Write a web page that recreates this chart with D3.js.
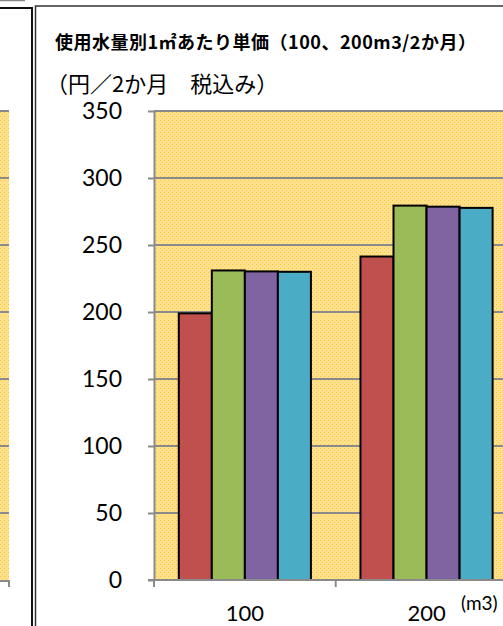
<!DOCTYPE html>
<html>
<head>
<meta charset="utf-8">
<script src="https://d3js.org/d3.v7.min.js"></script>
<style>
  body { margin: 0; background: #fff; }
  svg { display: block; }
  .tick text { font-family: Lato, "Liberation Sans", sans-serif; }
</style>
</head>
<body>
<div id="chart"></div>
<script>
// data
var categories = ["100", "200"];
var seriesNames = ["s1", "s2", "s3", "s4"];
var s1 = [199, 241.4];
var s2 = [231, 279.4];
var s3 = [230.3, 278.6];
var s4 = [230, 277.7];
var yTicks = [0, 50, 100, 150, 200, 250, 300, 350];
var colours = ["#C0504D", "#9BBB59", "#8064A2", "#4BACC6"];

var width = 503, height = 626;
var plot = { left: 154, right: 517.4, top: 111, bottom: 580 };

var svg = d3.select("#chart").append("svg")
  .attr("width", width)
  .attr("height", height);

var defs = svg.append("defs");
var pat = defs.append("pattern")
  .attr("id", "dots")
  .attr("width", 4).attr("height", 4)
  .attr("patternUnits", "userSpaceOnUse");
pat.append("rect").attr("width", 4).attr("height", 4).attr("fill", "#FFE08C");
pat.append("rect").attr("x", 0).attr("y", 0).attr("width", 1).attr("height", 1).attr("fill", "#FFC72C");
pat.append("rect").attr("x", 2).attr("y", 2).attr("width", 1).attr("height", 1).attr("fill", "#FFD24F");

var y = d3.scaleLinear().domain([0, 350]).range([plot.bottom, plot.top]);

// left neighbour chart (only a sliver is visible)
var leftG = svg.append("g");
leftG.append("rect")
  .attr("x", 0).attr("y", plot.top)
  .attr("width", 9).attr("height", plot.bottom - plot.top)
  .attr("fill", "url(#dots)");
leftG.selectAll("line.grid")
  .data(yTicks.slice(1))
  .enter().append("line")
  .attr("x1", 0).attr("x2", 9)
  .attr("y1", function (d) { return y(d); })
  .attr("y2", function (d) { return y(d); })
  .attr("stroke", "#8a8a8a").attr("stroke-width", 2);
leftG.append("line")
  .attr("x1", 0).attr("x2", 10)
  .attr("y1", plot.bottom + 1).attr("y2", plot.bottom + 1)
  .attr("stroke", "#8a8a8a").attr("stroke-width", 2);
leftG.append("line")
  .attr("x1", 9).attr("x2", 9)
  .attr("y1", plot.bottom).attr("y2", plot.bottom + 7)
  .attr("stroke", "#8a8a8a").attr("stroke-width", 2);

// frames
svg.append("line").attr("x1", 0).attr("x2", 25).attr("y1", 0.5).attr("y2", 0.5)
  .attr("stroke", "#888").attr("stroke-width", 1.5);
svg.append("path")
  .attr("d", "M0,8 H32 V626")
  .attr("fill", "none").attr("stroke", "#111").attr("stroke-width", 2);
svg.append("path")
  .attr("d", "M35.5,626 V6 H503")
  .attr("fill", "none").attr("stroke", "#333").attr("stroke-width", 1.5);

// titles
svg.append("text")
  .attr("x", 55).attr("y", 44)
  .attr("dominant-baseline", "middle")
  .style("font-family", "'Noto Sans CJK JP', sans-serif")
  .style("font-weight", "bold")
  .style("font-size", "18px")
  .style("letter-spacing", "0.5px")
  .text("使用水量別1㎡あたり単価（100、200m3/2か月）");

svg.append("text")
  .attr("x", 46).attr("y", 86)
  .attr("dominant-baseline", "middle")
  .style("font-family", "'Noto Sans CJK JP', sans-serif")
  .style("font-size", "22px")
  .text("（円／2か月　税込み）");

// plot area
var g = svg.append("g");
g.append("rect")
  .attr("x", plot.left).attr("y", plot.top)
  .attr("width", plot.right - plot.left).attr("height", plot.bottom - plot.top)
  .attr("fill", "url(#dots)");

g.selectAll("line.grid")
  .data(yTicks.slice(1))
  .enter().append("line")
  .attr("class", "grid")
  .attr("x1", plot.left).attr("x2", plot.right)
  .attr("y1", function (d) { return y(d); })
  .attr("y2", function (d) { return y(d); })
  .attr("stroke", "#8a8a8a").attr("stroke-width", 2);

var x0 = d3.scaleBand().domain(categories).range([plot.left, plot.right]).padding(0);
var bw = x0.bandwidth() / 5.5;
var x1 = d3.scaleBand().domain(seriesNames).range([0, bw * 4]).padding(0);
var offset = (x0.bandwidth() - bw * 4) / 2;

var allSeries = [s1, s2, s3, s4];
var rows = [];
categories.forEach(function (c, i) {
  seriesNames.forEach(function (s, j) {
    rows.push({ cat: c, ser: s, value: allSeries[j][i], colour: colours[j] });
  });
});

g.selectAll("rect.bar")
  .data(rows)
  .enter().append("rect")
  .attr("class", "bar")
  .attr("x", function (d) { return x0(d.cat) + offset + x1(d.ser); })
  .attr("y", function (d) { return y(d.value); })
  .attr("width", x1.bandwidth())
  .attr("height", function (d) { return y(0) - y(d.value); })
  .attr("fill", function (d) { return d.colour; })
  .attr("stroke", "#000")
  .attr("stroke-width", 2);

// y axis
var yAxis = g.append("g")
  .attr("transform", "translate(" + plot.left + ",0)")
  .call(d3.axisLeft(y).tickValues(yTicks).tickSize(6).tickPadding(26).tickSizeOuter(0));
yAxis.select(".domain").attr("stroke", "#8a8a8a").attr("stroke-width", 2);
yAxis.selectAll(".tick line").attr("stroke", "#8a8a8a").attr("stroke-width", 2);
yAxis.selectAll(".tick text").style("font-size", "23px").attr("fill", "#000");

// x axis
var xAxis = g.append("g")
  .attr("transform", "translate(0," + plot.bottom + ")")
  .call(d3.axisBottom(x0).tickSize(0).tickPadding(25));
xAxis.select(".domain").remove();
xAxis.append("line")
  .attr("x1", plot.left - 6).attr("x2", plot.right)
  .attr("y1", 0).attr("y2", 0)
  .attr("stroke", "#8a8a8a").attr("stroke-width", 2);
xAxis.selectAll("line.sep")
  .data(categories.concat(["end"]))
  .enter().append("line")
  .attr("class", "sep")
  .attr("x1", function (d, i) { return plot.left + i * x0.bandwidth(); })
  .attr("x2", function (d, i) { return plot.left + i * x0.bandwidth(); })
  .attr("y1", 0).attr("y2", 7)
  .attr("stroke", "#8a8a8a").attr("stroke-width", 2);
xAxis.selectAll(".tick text").style("font-size", "22px").attr("fill", "#000");

svg.append("text")
  .attr("x", 461).attr("y", 610)
  .style("font-family", "Lato, 'Liberation Sans', sans-serif")
  .style("font-size", "19px")
  .text("(m3)");
</script>
</body>
</html>
